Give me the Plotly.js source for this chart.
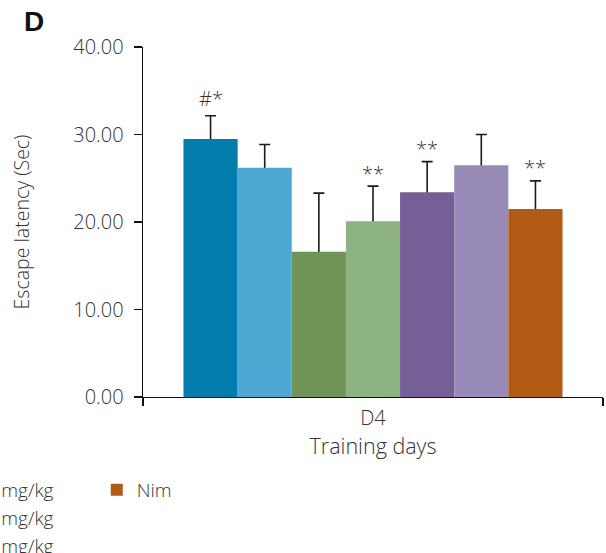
<!DOCTYPE html>
<html>
<head>
<meta charset="utf-8">
<script src="https://cdn.plot.ly/plotly-3.0.1.min.js"></script>
<style>html,body{margin:0;padding:0;background:#fff;}#chart{width:606px;height:553px;}</style>
</head>
<body>
<div id="chart"></div>
<script>
// ---- data ----
const categories = ["D4"];
const groupNames = ["Control", "Model", "Compound 5 mg/kg", "Compound 10 mg/kg", "Compound 20 mg/kg", "Compound 40 mg/kg", "Nim"];
const meanValues = [29.5, 26.2, 16.6, 20.1, 23.4, 26.5, 21.5];
const errValues = [2.65, 2.65, 6.7, 4.0, 3.5, 3.5, 3.2];
const sigLabels = ["#*", "", "", "**", "**", "", "**"];
const barColors = ["#007DAD", "#4EA8D4", "#6F9455", "#8DB383", "#745F96", "#988BB7", "#B25B15"];
const legendOf = ["legend", "legend", "legend", "legend2", "legend2", "legend2", "legend3"];

const FONT = "'Open Sans', Roboto, sans-serif";
const TXT = "#333333";
const bargap = 0.176;
const plotW = 460;

// error-bar carriers (transparent bars, drawn first so the coloured bars hide the lower half)
const carriers = groupNames.map((name, i) => ({
  type: "bar", name: name, x: categories, y: [meanValues[i]],
  offsetgroup: "g" + i, showlegend: false,
  marker: { color: "rgba(0,0,0,0)" },
  error_y: { type: "data", array: [errValues[i]], color: "#1a1a1a", thickness: 1.6, width: 5.5 },
  hoverinfo: "skip"
}));
const bars = groupNames.map((name, i) => ({
  type: "bar", name: name, x: categories, y: [meanValues[i]],
  offsetgroup: "g" + i, legend: legendOf[i],
  marker: { color: barColors[i] },
  hoverinfo: "skip"
}));

const n = groupNames.length;
const barW = plotW * (1 - bargap) / n;
const annotations = [];
sigLabels.forEach((lab, i) => {
  if (!lab) return;
  annotations.push({
    xref: "x", yref: "y", x: categories[0], y: meanValues[i] + errValues[i],
    xshift: (i - (n - 1) / 2) * barW, yshift: lab.indexOf("#") >= 0 ? 17 : 13,
    text: lab, showarrow: false, yanchor: "middle",
    font: { family: FONT, size: 20, color: TXT }
  });
});
annotations.push({
  xref: "paper", yref: "paper", x: -0.264, y: 1.072, xanchor: "left", yanchor: "middle",
  text: "<b>D</b>", showarrow: false,
  font: { family: "'Liberation Sans', Arial, sans-serif", size: 28, color: "#111" }
});

const legendBase = {
  orientation: "v", yanchor: "top", y: -0.211,
  font: { family: FONT, size: 19, color: TXT, weight: 300 },
  bgcolor: "rgba(0,0,0,0)", borderwidth: 0
};

const layout = {
  width: 606, height: 553,
  margin: { l: 143, r: 3, t: 47, b: 156, autoexpand: false },
  paper_bgcolor: "#fff", plot_bgcolor: "#fff",
  barmode: "group", bargap: bargap, bargroupgap: 0,
  font: { family: FONT, size: 20, color: TXT, weight: 300 },
  showlegend: true,
  legend: Object.assign({}, legendBase, { x: -0.9, xanchor: "right" }),
  legend2: Object.assign({}, legendBase, { x: -0.183, xanchor: "right" }),
  legend3: Object.assign({}, legendBase, { x: -0.1005, xanchor: "left" }),
  xaxis: {
    showline: true, linecolor: "#111", linewidth: 1.3,
    ticks: "outside", tickson: "boundaries", ticklen: 8, tickcolor: "#111", tickwidth: 1.3, ticklabelstandoff: 3,
    tickfont: { family: FONT, size: 20, color: TXT, weight: 300 },
    title: { text: "Training days", font: { family: FONT, size: 21.5, color: TXT, weight: 300 }, standoff: 0 },
    showgrid: false, zeroline: false, fixedrange: true
  },
  yaxis: {
    range: [0, 40], dtick: 10, tickformat: ".2f",
    showline: true, linecolor: "#111", linewidth: 1.3,
    ticks: "outside", ticklen: 8, tickcolor: "#111", tickwidth: 1.3, ticklabelstandoff: 6,
    tickfont: { family: FONT, size: 20, color: TXT, weight: 300 },
    title: { text: "Escape latency (Sec)", font: { family: FONT, size: 19.5, color: TXT, weight: 300 }, standoff: 38 },
    showgrid: false, zeroline: false, fixedrange: true
  },
  annotations: annotations
};

Plotly.newPlot("chart", carriers.concat(bars), layout, { displayModeBar: false, staticPlot: true });
</script>
</body>
</html>
